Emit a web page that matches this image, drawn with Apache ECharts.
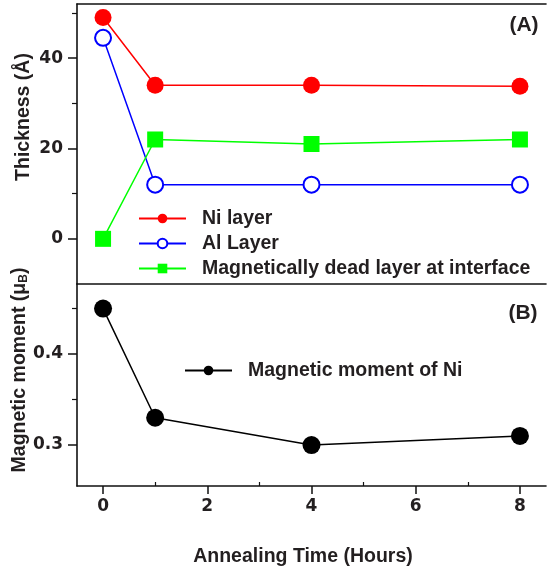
<!DOCTYPE html>
<html>
<head>
<meta charset="utf-8">
<script src="https://cdn.jsdelivr.net/npm/echarts@6/dist/echarts.min.js"></script>
<style>
  html, body { margin: 0; padding: 0; background: #fff; }
  #chart { width: 547px; height: 571px; }
</style>
</head>
<body>
<div id="chart"></div>
<script>
// Annealing times (hours)
const times = [0, 1, 4, 8];

// Panel (A): layer thickness in Angstrom
const niLayer = [49, 34, 34, 33.8];
const alLayer = [44.5, 12, 12, 12];
const deadLayer = [0, 22, 21, 22];

// Panel (B): magnetic moment of Ni (Bohr magnetons)
const niMoment = [0.45, 0.33, 0.30, 0.31];

// Tick positions
const xMajorTicks = [0, 2, 4, 6, 8];
const xMinorTicks = [1, 3, 5, 7];
const thickMajorTicks = [0, 20, 40];
const thickMinorTicks = [10, 30, 50];
const momentMajorTicks = [0.3, 0.4];
const momentMinorTicks = [0.35, 0.45];

const seriesNames = ['Ni layer', 'Al Layer', 'Magnetically dead layer at interface'];
const momentName = 'Magnetic moment of Ni';

const pairs = (ys) => times.map((t, i) => [t, ys[i]]);

const INK = '#231f20';
const AXIS = '#111';
const FONT = '"Liberation Sans", Arial, sans-serif';
const TICKFONT = '"DejaVu Sans", sans-serif';

const gridTop = { left: 77, top: 4, width: 469, height: 280 };
const gridBottom = { left: 77, top: 284, width: 469, height: 202 };

const lineAxis = { show: true, onZero: false, lineStyle: { color: AXIS, width: 1.6 } };
const tickLabel = { color: INK, fontFamily: TICKFONT, fontWeight: 'bold', fontSize: 17 };

function bareX(grid, pos) {
  return {
    type: 'value', gridIndex: grid, position: pos, min: -0.5, max: 8.5,
    axisLine: lineAxis, axisTick: { show: false }, axisLabel: { show: false },
    splitLine: { show: false }
  };
}

const option = {
  animation: false,
  backgroundColor: '#fff',
  grid: [gridTop, gridBottom],
  xAxis: [
    bareX(0, 'bottom'),
    bareX(0, 'top'),
    {
      type: 'value', gridIndex: 1, position: 'bottom', min: -0.5, max: 8.5,
      axisLine: lineAxis,
      axisTick: { show: true, customValues: xMajorTicks, length: 8, lineStyle: { color: AXIS, width: 1.5 } },
      axisLabel: Object.assign({ show: true, customValues: xMajorTicks, margin: 12 }, tickLabel),
      splitLine: { show: false }
    },
    {
      type: 'value', gridIndex: 1, position: 'bottom', min: -0.5, max: 8.5,
      axisLine: { show: false, onZero: false },
      axisTick: { show: true, inside: true, customValues: xMinorTicks, length: 4, lineStyle: { color: AXIS, width: 1.2 } },
      axisLabel: { show: false }, splitLine: { show: false }
    }
  ],
  yAxis: [
    {
      type: 'value', gridIndex: 0, position: 'left', min: -10, max: 52,
      axisLine: lineAxis,
      axisTick: { show: true, customValues: thickMajorTicks, length: 9, lineStyle: { color: AXIS, width: 1.5 } },
      axisLabel: Object.assign({ show: true, customValues: thickMajorTicks, margin: 14 }, tickLabel),
      splitLine: { show: false }
    },
    {
      type: 'value', gridIndex: 0, position: 'left', min: -10, max: 52,
      axisLine: { show: false, onZero: false },
      axisTick: { show: true, customValues: thickMinorTicks, length: 5, lineStyle: { color: AXIS, width: 1.2 } },
      axisLabel: { show: false }, splitLine: { show: false }
    },
    {
      type: 'value', gridIndex: 1, position: 'left', min: 0.255, max: 0.477,
      axisLine: lineAxis,
      axisTick: { show: true, customValues: momentMajorTicks, length: 9, lineStyle: { color: AXIS, width: 1.5 } },
      axisLabel: Object.assign({ show: true, customValues: momentMajorTicks, margin: 14,
        formatter: (v) => v.toFixed(1) }, tickLabel),
      splitLine: { show: false }
    },
    {
      type: 'value', gridIndex: 1, position: 'left', min: 0.255, max: 0.477,
      axisLine: { show: false, onZero: false },
      axisTick: { show: true, customValues: momentMinorTicks, length: 5, lineStyle: { color: AXIS, width: 1.2 } },
      axisLabel: { show: false }, splitLine: { show: false }
    }
  ],
  legend: [
    {
      data: seriesNames, orient: 'vertical', left: 133, top: 201,
      itemWidth: 47, itemHeight: 12, itemGap: 0,
      textStyle: { color: INK, fontFamily: FONT, fontWeight: 'bold', fontSize: 19.5,
        lineHeight: 25, padding: [0, 0, 0, 11] }
    },
    {
      data: [momentName], orient: 'vertical', left: 179, top: 353,
      itemWidth: 47, itemHeight: 12, itemGap: 0,
      textStyle: { color: INK, fontFamily: FONT, fontWeight: 'bold', fontSize: 19.5,
        lineHeight: 25, padding: [0, 0, 0, 11] }
    }
  ],
  series: [
    {
      name: seriesNames[0], type: 'line', xAxisIndex: 0, yAxisIndex: 0,
      data: pairs(niLayer), symbol: 'circle', symbolSize: 17,
      itemStyle: { color: '#ff0000' }, lineStyle: { color: '#ff0000', width: 1.5 }
    },
    {
      name: seriesNames[1], type: 'line', xAxisIndex: 0, yAxisIndex: 0,
      data: pairs(alLayer), symbol: 'emptyCircle', symbolSize: 16,
      itemStyle: { color: '#0000ff', borderWidth: 1.3 }, lineStyle: { color: '#0000ff', width: 1.5 }
    },
    {
      name: seriesNames[2], type: 'line', xAxisIndex: 0, yAxisIndex: 0,
      data: pairs(deadLayer), symbol: 'rect', symbolSize: 16,
      itemStyle: { color: '#00ff00' }, lineStyle: { color: '#00ff00', width: 1.5 }
    },
    {
      name: momentName, type: 'line', xAxisIndex: 2, yAxisIndex: 2,
      data: pairs(niMoment), symbol: 'circle', symbolSize: 18,
      itemStyle: { color: '#000' }, lineStyle: { color: '#000', width: 1.5 }
    }
  ],
  graphic: [
    {
      type: 'text', x: 24, y: 117, rotation: Math.PI / 2,
      style: { text: 'Thickness (Å)', fill: INK, font: 'bold 19.5px ' + FONT,
        align: 'center', verticalAlign: 'middle' }
    },
    {
      type: 'text', x: 20, y: 370, rotation: Math.PI / 2,
      style: {
        text: '{m|Magnetic moment (μ}{s|B}{m|)}',
        align: 'center', verticalAlign: 'middle',
        rich: {
          m: { fill: INK, fontFamily: FONT, fontWeight: 'bold', fontSize: 19.5 },
          s: { fill: INK, fontFamily: FONT, fontWeight: 'bold', fontSize: 12, padding: [8, 0, 0, 0] }
        }
      }
    },
    {
      type: 'text', x: 303, y: 557,
      style: { text: 'Annealing Time (Hours)', fill: INK, font: 'bold 19.5px ' + FONT,
        align: 'center', verticalAlign: 'middle' }
    },
    {
      type: 'text', x: 524, y: 25,
      style: { text: '(A)', fill: INK, font: 'bold 21px ' + FONT, align: 'center', verticalAlign: 'middle' }
    },
    {
      type: 'text', x: 523, y: 313,
      style: { text: '(B)', fill: INK, font: 'bold 21px ' + FONT, align: 'center', verticalAlign: 'middle' }
    }
  ]
};

const chart = echarts.init(document.getElementById('chart'), null, { renderer: 'canvas' });
chart.setOption(option);
</script>
</body>
</html>
